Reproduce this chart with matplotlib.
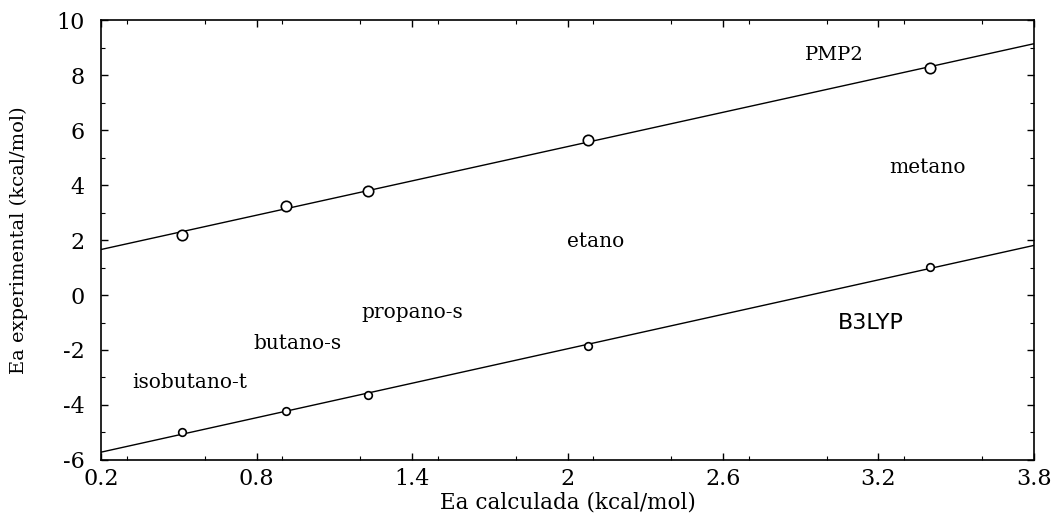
import numpy as np
import matplotlib
matplotlib.use("Agg")
import matplotlib.pyplot as plt
from matplotlib.ticker import MultipleLocator

plt.rcParams["axes.unicode_minus"] = False

# Data
ea_calc = [0.513, 0.914, 1.23, 2.08, 3.40]
pmp2 = [2.18, 3.24, 3.80, 5.64, 8.25]
b3lyp = [-4.98, -4.22, -3.64, -1.85, 1.02]

molecules = ["isobutano-t", "butano-s", "propano-s", "etano", "metano"]
mol_label_x = [0.543, 0.956, 1.40, 2.11, 3.39]
mol_label_y = [-3.2, -1.78, -0.62, 1.93, 4.62]

x_ticks = [0.2, 0.8, 1.4, 2, 2.6, 3.2, 3.8]
x_ticklabels = ["0.2", "0.8", "1.4", "2", "2.6", "3.2", "3.8"]
y_ticks = [-6, -4, -2, 0, 2, 4, 6, 8, 10]

serif = "DejaVu Serif"

fig = plt.figure(figsize=(10.58, 5.2), dpi=100)
ax = fig.add_axes([0.0955, 0.1154, 0.8818, 0.8461])

xs = np.array(ea_calc)
xline = np.array([0.2, 3.8])
for ys, ms in [(pmp2, 7.5), (b3lyp, 5.5)]:
    coef = np.polyfit(xs, np.array(ys), 1)
    ax.plot(xline, np.polyval(coef, xline), color="black", lw=1.0, zorder=2)
    ax.plot(xs, ys, linestyle="none", marker="o", ms=ms, mfc="white",
            mec="black", mew=1.2, zorder=3)

for name, tx, ty in zip(molecules, mol_label_x, mol_label_y):
    ax.text(tx, ty, name, ha="center", va="center", fontsize=14.5,
            family=serif)

ax.text(3.03, 8.73, "PMP2", ha="center", va="center", fontsize=14,
        family=serif)
ax.text(3.17, -1.02, "B3LYP", ha="center", va="center", fontsize=16,
        family="DejaVu Sans")

ax.set_xlim(0.2, 3.8)
ax.set_ylim(-6, 10)
ax.set_xticks(x_ticks)
ax.set_xticklabels(x_ticklabels)
ax.set_yticks(y_ticks)
ax.xaxis.set_minor_locator(MultipleLocator(0.3))
ax.yaxis.set_minor_locator(MultipleLocator(1))
ax.tick_params(which="both", direction="in", top=True, right=True,
               labelsize=16)
ax.tick_params(axis="x", which="major", pad=6)
ax.tick_params(axis="y", which="major", pad=12)
ax.tick_params(which="major", length=5, width=1)
ax.tick_params(which="minor", length=3, width=0.8)
for lab in ax.get_xticklabels() + ax.get_yticklabels():
    lab.set_family(serif)
for s in ax.spines.values():
    s.set_linewidth(1.2)

ax.set_xlabel("Ea calculada (kcal/mol)", fontsize=15.5, family=serif,
              labelpad=1)
ax.set_ylabel("Ea experimental (kcal/mol)", fontsize=14, family=serif,
              labelpad=20)

fig.savefig("out.png", dpi=100, facecolor="white")
